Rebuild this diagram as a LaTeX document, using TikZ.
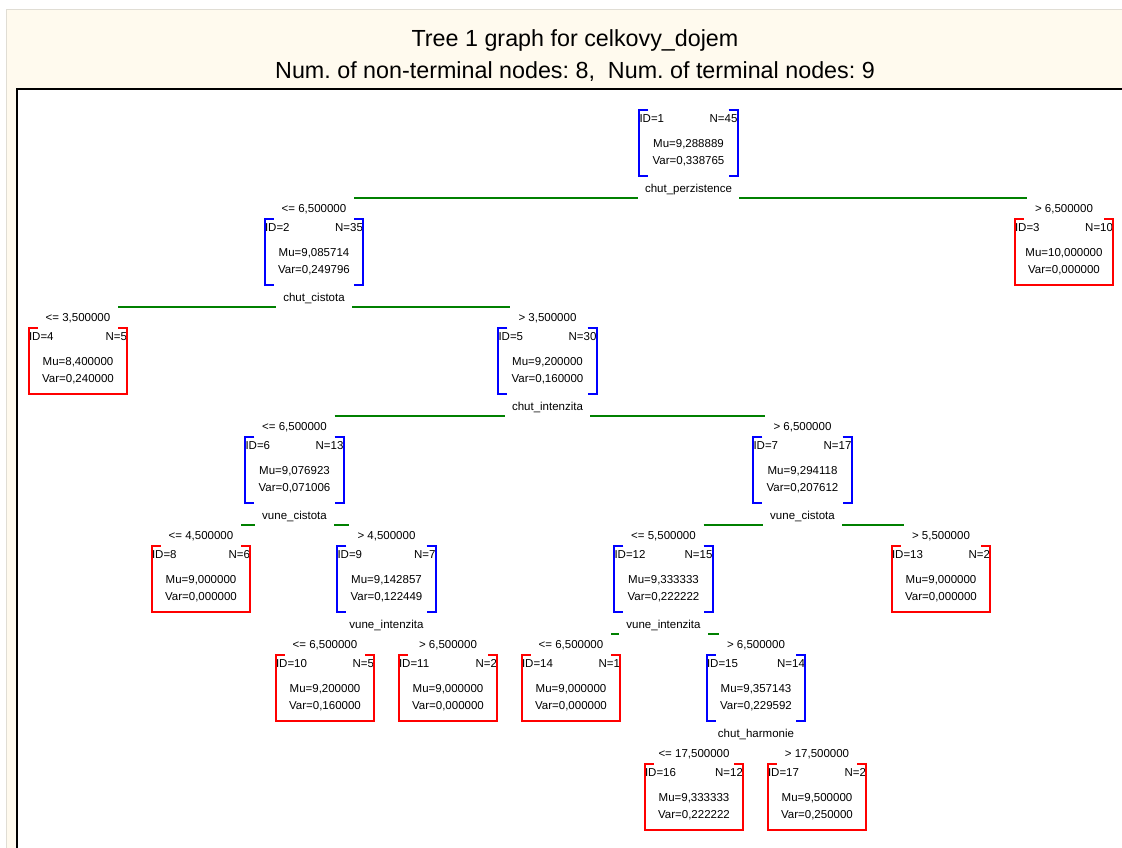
\documentclass[tikz,border=0pt]{standalone}
\usepackage{fontspec}
\setmainfont{Liberation Sans}
\usetikzlibrary{positioning}
\definecolor{paper}{RGB}{255,250,238}
\definecolor{rulegrey}{RGB}{224,221,212}
\definecolor{branchgreen}{RGB}{0,128,0}

\begin{document}
\frenchspacing
\begin{tikzpicture}[x=1pt, y=1pt, node distance=5pt,
    every node/.style={inner sep=0pt, font=\fontsize{11.5}{17}\selectfont},
    tbox/.style={anchor=north, text width=98pt, minimum height=66pt, align=center, text height=8.3pt, text depth=49.9pt},
    split/.style={fill=white, inner xsep=7pt, inner ysep=6.5pt},
    branch/.style={draw=branchgreen, line width=2pt},
    inbr/.style={draw=blue, line width=2pt},
    leafbr/.style={draw=red, line width=2pt},
    title/.style={anchor=base, font=\fontsize{23.3}{28}\selectfont}]
    \useasboundingbox (0,0) rectangle (1122,848);
    \fill[paper] (6.5,0) rectangle (1122,838.5);
    \draw[rulegrey, line width=1pt] (6.5,0) |- (1122,838.5);
    \fill[white] (16.5,0) rectangle (1122,759);
    \draw[line width=2pt] (16.5,0) |- (1122,759);
    \node[title] (t1) at (575,801.5) {Tree 1 graph for celkovy\_dojem};
    \node[title] (t2) at (575,769.5) {Num. of non-terminal nodes: 8,\ \ Num. of terminal nodes: 9};

    \node[tbox] (n1) at (688.5,738) {ID=1\hfill N=45\\[8pt]Mu=9,288889\\Var=0,338765};
    \node[tbox] (n2) at (314,629) {ID=2\hfill N=35\\[8pt]Mu=9,085714\\Var=0,249796};
    \node[tbox] (n3) at (1064,629) {ID=3\hfill N=10\\[8pt]Mu=10,000000\\Var=0,000000};
    \node[tbox] (n4) at (78,520) {ID=4\hfill N=5\\[8pt]Mu=8,400000\\Var=0,240000};
    \node[tbox] (n5) at (547.5,520) {ID=5\hfill N=30\\[8pt]Mu=9,200000\\Var=0,160000};
    \node[tbox] (n6) at (294.5,411) {ID=6\hfill N=13\\[8pt]Mu=9,076923\\Var=0,071006};
    \node[tbox] (n7) at (802.5,411) {ID=7\hfill N=17\\[8pt]Mu=9,294118\\Var=0,207612};
    \node[tbox] (n8) at (201,302) {ID=8\hfill N=6\\[8pt]Mu=9,000000\\Var=0,000000};
    \node[tbox] (n9) at (386.5,302) {ID=9\hfill N=7\\[8pt]Mu=9,142857\\Var=0,122449};
    \node[tbox] (n12) at (663.5,302) {ID=12\hfill N=15\\[8pt]Mu=9,333333\\Var=0,222222};
    \node[tbox] (n13) at (941,302) {ID=13\hfill N=2\\[8pt]Mu=9,000000\\Var=0,000000};
    \node[tbox] (n10) at (325,193) {ID=10\hfill N=5\\[8pt]Mu=9,200000\\Var=0,160000};
    \node[tbox] (n11) at (448,193) {ID=11\hfill N=2\\[8pt]Mu=9,000000\\Var=0,000000};
    \node[tbox] (n14) at (571,193) {ID=14\hfill N=1\\[8pt]Mu=9,000000\\Var=0,000000};
    \node[tbox] (n15) at (756,193) {ID=15\hfill N=14\\[8pt]Mu=9,357143\\Var=0,229592};
    \node[tbox] (n16) at (694,84) {ID=16\hfill N=12\\[8pt]Mu=9,333333\\Var=0,222222};
    \node[tbox] (n17) at (817,84) {ID=17\hfill N=2\\[8pt]Mu=9,500000\\Var=0,250000};

    \node[above=of n2] (k2) {<= 6,500000};
    \node[above=of n3] (k3) {> 6,500000};
    \node[above=of n4] (k4) {<= 3,500000};
    \node[above=of n5] (k5) {> 3,500000};
    \node[above=of n6] (k6) {<= 6,500000};
    \node[above=of n7] (k7) {> 6,500000};
    \node[above=of n8] (k8) {<= 4,500000};
    \node[above=of n9] (k9) {> 4,500000};
    \node[above=of n12] (k12) {<= 5,500000};
    \node[above=of n13] (k13) {> 5,500000};
    \node[above=of n10] (k10) {<= 6,500000};
    \node[above=of n11] (k11) {> 6,500000};
    \node[above=of n14] (k14) {<= 6,500000};
    \node[above=of n15] (k15) {> 6,500000};
    \node[above=of n16] (k16) {<= 17,500000};
    \node[above=of n17] (k17) {> 17,500000};

    \coordinate[below=22pt of n1] (c1);
    \draw[branch] ([xshift=-9pt]n2.east |- c1) -- ([xshift=12pt]n3.west |- c1);
    \node[split, below=1pt of n1] (s1) {chut\_perzistence};
    \coordinate[below=22pt of n2] (c2);
    \draw[branch] ([xshift=-9pt]n4.east |- c2) -- ([xshift=12pt]n5.west |- c2);
    \node[split, below=1pt of n2] (s2) {chut\_cistota};
    \coordinate[below=22pt of n5] (c5);
    \draw[branch] ([xshift=-9pt]n6.east |- c5) -- ([xshift=12pt]n7.west |- c5);
    \node[split, below=1pt of n5] (s5) {chut\_intenzita};
    \coordinate[below=22pt of n6] (c6);
    \draw[branch] ([xshift=-9pt]n8.east |- c6) -- ([xshift=12pt]n9.west |- c6);
    \node[split, below=1pt of n6] (s6) {vune\_cistota};
    \coordinate[below=22pt of n7] (c7);
    \draw[branch] ([xshift=-9pt]n12.east |- c7) -- ([xshift=12pt]n13.west |- c7);
    \node[split, below=1pt of n7] (s7) {vune\_cistota};
    \coordinate[below=22pt of n9] (c9);
    \draw[branch] ([xshift=-9pt]n10.east |- c9) -- ([xshift=12pt]n11.west |- c9);
    \node[split, below=1pt of n9] (s9) {vune\_intenzita};
    \coordinate[below=22pt of n12] (c12);
    \draw[branch] ([xshift=-9pt]n14.east |- c12) -- ([xshift=12pt]n15.west |- c12);
    \node[split, below=1pt of n12] (s12) {vune\_intenzita};
    \coordinate[below=22pt of n15] (c15);
    \draw[branch] ([xshift=-9pt]n16.east |- c15) -- ([xshift=12pt]n17.west |- c15);
    \node[split, below=1pt of n15] (s15) {chut\_harmonie};

    \draw[inbr] ([xshift=9pt]n1.north west) -- (n1.north west) -- (n1.south west) -- ++(9,0) ([xshift=-9pt]n1.north east) -- (n1.north east) -- (n1.south east) -- ++(-9,0);
    \draw[inbr] ([xshift=9pt]n2.north west) -- (n2.north west) -- (n2.south west) -- ++(9,0) ([xshift=-9pt]n2.north east) -- (n2.north east) -- (n2.south east) -- ++(-9,0);
    \draw[inbr] ([xshift=9pt]n5.north west) -- (n5.north west) -- (n5.south west) -- ++(9,0) ([xshift=-9pt]n5.north east) -- (n5.north east) -- (n5.south east) -- ++(-9,0);
    \draw[inbr] ([xshift=9pt]n6.north west) -- (n6.north west) -- (n6.south west) -- ++(9,0) ([xshift=-9pt]n6.north east) -- (n6.north east) -- (n6.south east) -- ++(-9,0);
    \draw[inbr] ([xshift=9pt]n7.north west) -- (n7.north west) -- (n7.south west) -- ++(9,0) ([xshift=-9pt]n7.north east) -- (n7.north east) -- (n7.south east) -- ++(-9,0);
    \draw[inbr] ([xshift=9pt]n9.north west) -- (n9.north west) -- (n9.south west) -- ++(9,0) ([xshift=-9pt]n9.north east) -- (n9.north east) -- (n9.south east) -- ++(-9,0);
    \draw[inbr] ([xshift=9pt]n12.north west) -- (n12.north west) -- (n12.south west) -- ++(9,0) ([xshift=-9pt]n12.north east) -- (n12.north east) -- (n12.south east) -- ++(-9,0);
    \draw[inbr] ([xshift=9pt]n15.north west) -- (n15.north west) -- (n15.south west) -- ++(9,0) ([xshift=-9pt]n15.north east) -- (n15.north east) -- (n15.south east) -- ++(-9,0);

    \draw[leafbr] ([xshift=9pt]n3.north west) -- (n3.north west) -- (n3.south west) -- (n3.south east) -- (n3.north east) -- ++(-9,0);
    \draw[leafbr] ([xshift=9pt]n4.north west) -- (n4.north west) -- (n4.south west) -- (n4.south east) -- (n4.north east) -- ++(-9,0);
    \draw[leafbr] ([xshift=9pt]n8.north west) -- (n8.north west) -- (n8.south west) -- (n8.south east) -- (n8.north east) -- ++(-9,0);
    \draw[leafbr] ([xshift=9pt]n10.north west) -- (n10.north west) -- (n10.south west) -- (n10.south east) -- (n10.north east) -- ++(-9,0);
    \draw[leafbr] ([xshift=9pt]n11.north west) -- (n11.north west) -- (n11.south west) -- (n11.south east) -- (n11.north east) -- ++(-9,0);
    \draw[leafbr] ([xshift=9pt]n13.north west) -- (n13.north west) -- (n13.south west) -- (n13.south east) -- (n13.north east) -- ++(-9,0);
    \draw[leafbr] ([xshift=9pt]n14.north west) -- (n14.north west) -- (n14.south west) -- (n14.south east) -- (n14.north east) -- ++(-9,0);
    \draw[leafbr] ([xshift=9pt]n16.north west) -- (n16.north west) -- (n16.south west) -- (n16.south east) -- (n16.north east) -- ++(-9,0);
    \draw[leafbr] ([xshift=9pt]n17.north west) -- (n17.north west) -- (n17.south west) -- (n17.south east) -- (n17.north east) -- ++(-9,0);
\end{tikzpicture}
\end{document}
